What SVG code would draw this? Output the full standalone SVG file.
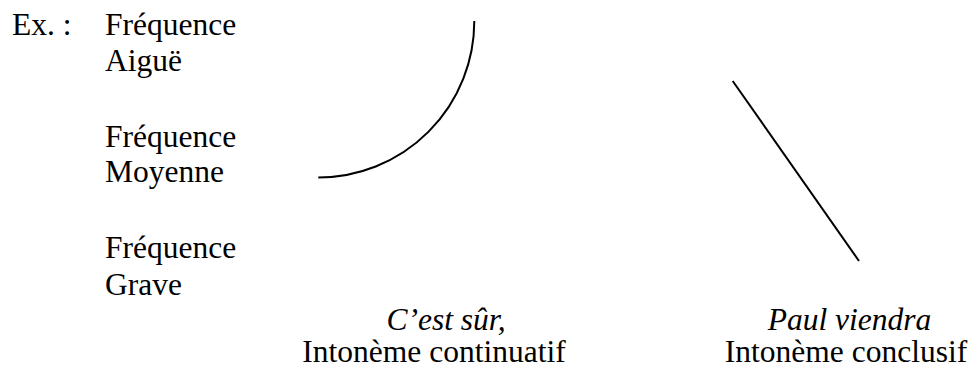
<svg xmlns="http://www.w3.org/2000/svg" width="969" height="369" viewBox="0 0 969 369">
<style>
text{font-family:"Liberation Serif","Times New Roman",serif;font-size:31.5px;fill:#000}
.it{font-style:italic}
.c{text-anchor:middle}
.ln{fill:none;stroke:#000;stroke-width:2}
</style>
<rect width="969" height="369" fill="#fff"/>
<g id="labels-left">
<text x="12" y="35">Ex. :</text>
<text x="105" y="35">Fréquence</text>
<text x="105" y="71">Aiguë</text>
<text x="105" y="147">Fréquence</text>
<text x="105" y="182">Moyenne</text>
<text x="105" y="258">Fréquence</text>
<text x="105" y="295">Grave</text>
</g>
<g id="connectors">
<path class="ln" d="M318.3 177.5 A156 156.5 0 0 0 474.3 21"/>
<line class="ln" x1="732.7" y1="81" x2="859" y2="261"/>
</g>
<g id="continuatif">
<text class="it c" x="446" y="330">C’est sûr,</text>
<text class="c" x="434" y="362">Intonème continuatif</text>
</g>
<g id="conclusif">
<text class="it c" x="849.5" y="330">Paul viendra</text>
<text class="c" x="846" y="362">Intonème conclusif</text>
</g>
</svg>
